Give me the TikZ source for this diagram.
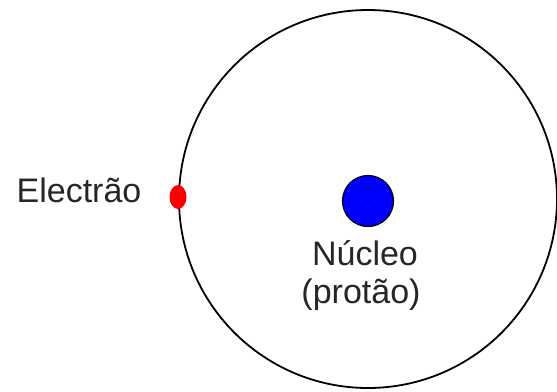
\documentclass[tikz,border=0pt]{standalone}
\usepackage{fontspec}
\setmainfont{Liberation Sans}
\usetikzlibrary{shapes.geometric}
\begin{document}
\begin{tikzpicture}[x=1pt,y=-1pt,
  lbl/.style={font=\fontsize{34}{40}\selectfont, anchor=base, inner sep=0pt, text=black!85}]
\useasboundingbox (0,0) rectangle (557,391);
\node[circle, draw=black, line width=1.8pt, minimum size=378pt, inner sep=0pt] (orbit) at (368,199) {};
\node[circle, draw=black, fill=blue, line width=1.2pt, minimum size=51pt, inner sep=0pt] (nucleus) at (368,201) {};
\fill[black] (nucleus.center) circle (0.9pt);
\node[ellipse, fill=red, minimum width=17pt, minimum height=24pt, inner sep=0pt] (electron) at (178,197) {};
\node[lbl] (elabel) at (79,202) {Electrão};
\node[lbl] (nlabel) at (365,265) {Núcleo};
\node[lbl] (plabel) at (361,303) {(protão)};
\end{tikzpicture}
\end{document}
